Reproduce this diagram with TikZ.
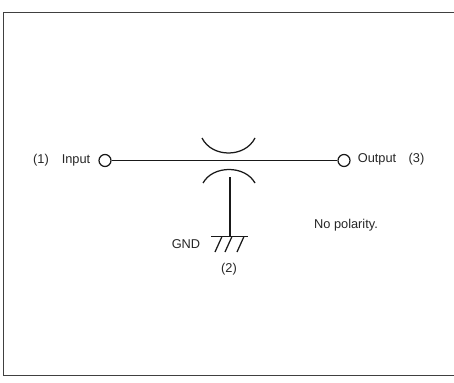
\documentclass[tikz,border=0pt]{standalone}
\usepackage{fontspec}
\setmainfont{Liberation Sans}
\tikzset{
  wire/.style={line width=1.25pt,black!90},
  frameline/.style={line width=1.2pt,black!75},
  term/.style={circle,draw,line width=1.25pt,black!90,minimum size=12pt,inner sep=0pt,fill=white},
  lbl/.style={inner sep=0pt,font=\fontsize{12.8}{15}\selectfont,text=black!85}
}
\begin{document}
\begin{tikzpicture}[x=1pt,y=-1pt]
\useasboundingbox (0,0) rectangle (454,382);
\draw[frameline] (454,12.5) -- (3.5,12.5) -- (3.5,375.5) -- (454,375.5);
\node[term] (in) at (105,160.5) {};
\node[term] (out) at (344,160.5) {};
\draw[wire] (in) -- (out);
\draw[wire] (202,138) .. controls (212,158) and (245,158) .. (255,138);
\draw[wire] (203,183) .. controls (213,165) and (245,165) .. (255,183);
\coordinate (stemtop) at (230,177);
\coordinate (gndc) at (230,236.5);
\coordinate (barl) at (211,236.5);
\coordinate (barr) at (248,236.5);
\draw[wire] (stemtop) -- (gndc);
\draw[wire] (barl) -- (barr);
\draw[wire] (222,236.5) -- (215,252);
\draw[wire] (232,236.5) -- (225,252);
\draw[wire] (244,236.5) -- (237,252);
\node[lbl] (n1) at (41,160) {(1)};
\node[lbl] (input) at (76,160) {Input};
\node[lbl] (output) at (377,159.5) {Output};
\node[lbl] (n3) at (416.5,159.5) {(3)};
\node[lbl] (gnd) at (186,244) {GND};
\node[lbl] (n2) at (229,269) {(2)};
\node[lbl] (nop) at (346,225) {No polarity.};
\end{tikzpicture}
\end{document}
